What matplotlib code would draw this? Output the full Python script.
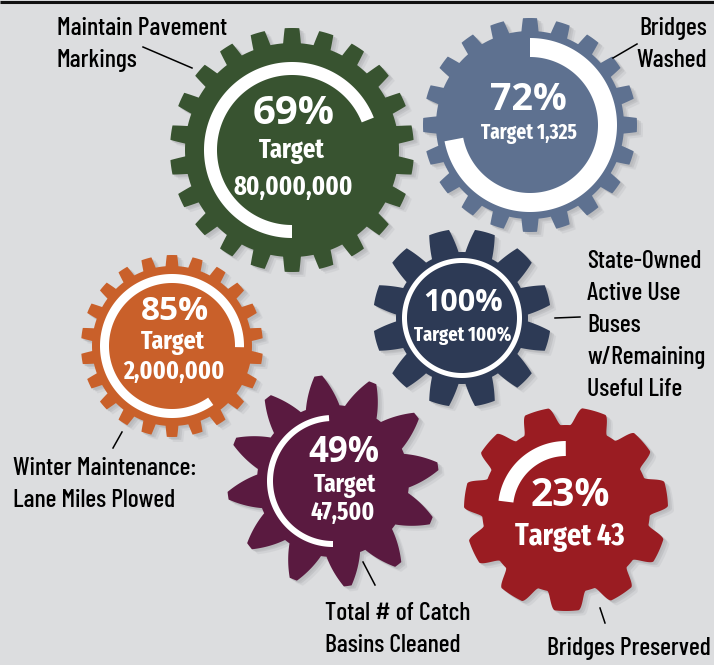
import numpy as np
import matplotlib
matplotlib.use("Agg")
import matplotlib.pyplot as plt
from matplotlib.patches import Polygon

# ---------------- data ----------------
metrics = ["Maintain Pavement\nMarkings", "Bridges\nWashed",
           "State-Owned\nActive Use\nBuses\nw/Remaining\nUseful Life",
           "Winter Maintenance:\nLane Miles Plowed",
           "Total # of Catch\nBasins Cleaned", "Bridges Preserved"]
percent_done = [69, 72, 100, 85, 49, 23]
targets = ["80,000,000", "1,325", "100%", "2,000,000", "47,500", "43"]

# ---------------- style / layout ----------------
BG = "#dcdddf"
gear_colors = ["#385330", "#5e7190", "#2d3a55", "#c9602a", "#5a1a40", "#9a1c22"]
# cx, cy, r_tip, r_root, n_teeth, a_tip, a_root, theta0, smooth
gear_geom = [
    (292, 150, 122, 107, 22, 0.21, 0.29, -90, False),
    (530, 125, 107, 94, 20, 0.21, 0.29, -90, False),
    (462, 318, 89, 66, 12, 0.22, 0.40, -75, False),
    (172, 346, 91, 80, 22, 0.20, 0.28, -90, False),
    (333, 481, 106, 76, 12, 0.07, 0.43, -98, False),
    (566, 509, 102, 84, 11, 0.20, 0.41, -74, True),
]
# ring: outer radius, width, start angle (screen deg, clockwise)
ring_geom = [(88, 13, 90), (87, 19, -90), (60, 5, 0), (72, 9, 55),
             (66, 6, 90), (68, 15, 187)]
pct_pos = [(294, 113, 29), (528, 100, 27), (463, 303, 22),
           (175, 312, 24), (344, 453, 25), (570, 495, 28)]
target_two_line = [True, False, False, True, True, False]
target_pos = [((292, 151), (293, 187), 19), ((529, 133), None, 15),
              ((463, 335), None, 14.5), ((173, 343), (174, 372), 18.5),
              ((345, 486), (343, 513), 18), ((570, 537), None, 22)]
label_pos = [(57, 35, "left"), (707, 35, "right"), (587, 268, "left"),
             (13, 475, "left"), (325, 620, "left"), (547, 655, "left")]
leaders = [((143, 47), (192, 68)), ((613, 58), (637, 44)),
           ((555, 318), (580, 317)), ((113, 448), (122, 432)),
           ((363, 562), (375, 585)), ((600, 608), (605, 623))]
LINE_H = 32

LABEL_FONT = ["Barlow Condensed", "DejaVu Sans"]
TARGET_FONT = ["Fira Sans Extra Condensed", "DejaVu Sans"]
PCT_FONT = ["Open Sans", "DejaVu Sans"]


def gear_poly(cx, cy, rt, rr, n, at, ar, th0, smooth, npts=3000):
    th = np.linspace(0, 2 * np.pi, npts, endpoint=False)
    pitch = 2 * np.pi / n
    rel = ((th - np.radians(th0)) / pitch + 0.5) % 1.0 - 0.5
    d = np.abs(rel)
    t = np.clip((ar - d) / (ar - at), 0, 1)
    if smooth:
        t = t * t * (3 - 2 * t)
    r = rr + (rt - rr) * t
    return np.column_stack([cx + r * np.cos(th), cy + r * np.sin(th)])


def arc_poly(cx, cy, ro, w, start, span):
    th = np.radians(np.linspace(start, start + span, 400))
    ri = ro - w
    outer = np.column_stack([cx + ro * np.cos(th), cy + ro * np.sin(th)])
    inner = np.column_stack([cx + ri * np.cos(th[::-1]), cy + ri * np.sin(th[::-1])])
    return np.vstack([outer, inner])


fig = plt.figure(figsize=(7.14, 6.65), dpi=100)
fig.patch.set_facecolor(BG)
ax = fig.add_axes([0, 0, 1, 1])
ax.set_xlim(0, 714)
ax.set_ylim(665, 0)
ax.axis("off")
ax.set_facecolor(BG)

ax.plot([0, 714], [1.5, 1.5], color="#111111", lw=2.2, solid_capstyle="butt")

for i in range(len(metrics)):
    cx, cy, rt, rr, n, at, ar, th0, sm = gear_geom[i]
    pts = gear_poly(cx, cy, rt, rr, n, at, ar, th0, sm)
    for dx, dy, a in [(6, 5, 0.25), (4, 3, 0.45), (2, 2, 0.6)]:
        ax.add_patch(Polygon(pts + [dx, dy], closed=True, fc="#b4b5b8",
                             ec="none", alpha=a, zorder=1 + 2 * i))
    ax.add_patch(Polygon(pts, closed=True, fc=gear_colors[i], ec="none",
                         zorder=2 + 2 * i))
    ro, w, st = ring_geom[i]
    span = percent_done[i] / 100 * 360
    ax.add_patch(Polygon(arc_poly(cx, cy, ro, w, st, span), closed=True,
                         fc="white", ec="none", zorder=2 + 2 * i))

    px, py, ps = pct_pos[i]
    ax.text(px, py, f"{percent_done[i]}%", ha="center", va="center",
            fontsize=ps, fontweight="bold", color="white", family=PCT_FONT,
            zorder=20)
    p1, p2, ts = target_pos[i]
    if target_two_line[i]:
        ax.text(p1[0], p1[1], "Target", ha="center", va="center", fontsize=ts,
                fontweight="bold", color="white", family=TARGET_FONT, zorder=20)
        ax.text(p2[0], p2[1], targets[i], ha="center", va="center", fontsize=ts,
                fontweight="bold", color="white", family=TARGET_FONT, zorder=20)
    else:
        ax.text(p1[0], p1[1], f"Target {targets[i]}", ha="center", va="center",
                fontsize=ts, fontweight="bold", color="white", family=TARGET_FONT,
                zorder=20)

    lx, ly, ha = label_pos[i]
    for j, line in enumerate(metrics[i].split("\n")):
        ax.text(lx, ly + j * LINE_H, line, ha=ha, va="baseline", fontsize=18.5,
                fontweight="medium", color="black", family=LABEL_FONT, zorder=20)
    (x0, y0), (x1, y1) = leaders[i]
    ax.plot([x0, x1], [y0, y1], color="black", lw=1.1, zorder=20)

fig.savefig("out.png", dpi=100, facecolor=BG)
